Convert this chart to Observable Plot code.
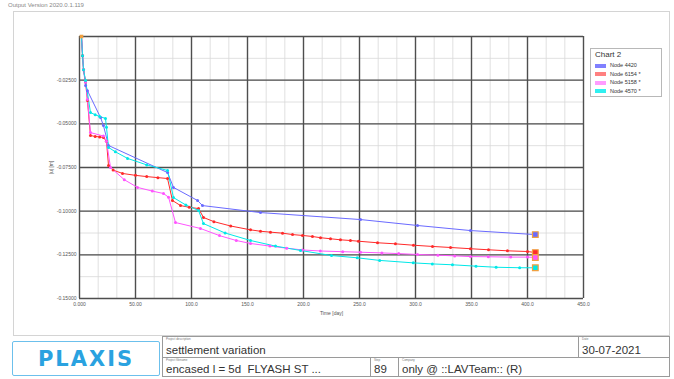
<!DOCTYPE html>
<html><head><meta charset="utf-8">
<script src="https://cdn.jsdelivr.net/npm/d3@7"></script>
<script src="https://cdn.jsdelivr.net/npm/@observablehq/plot@0.6"></script>
<style>
body{margin:0;background:#fff;font-family:"Liberation Sans",Arial,sans-serif;}
#wrap{position:relative;width:674px;height:379px;overflow:hidden;background:#fff;}
#chart{position:absolute;left:0;top:0;}
.abs{position:absolute;}
.box{position:absolute;border:1px solid #9a9a9a;box-sizing:border-box;background:#fff;}
.lab{position:absolute;left:3px;top:0px;font-size:3px;color:#777;}
.val{position:absolute;left:3px;bottom:1px;font-size:11.5px;color:#333;white-space:nowrap;}
</style></head>
<body><div id="wrap">
<div class="abs" style="left:8px;top:2px;font-size:6px;color:#888;">Output Version 2020.0.1.119</div>
<div class="abs" style="left:13px;top:11px;width:657px;height:325px;border:1px solid #d4d4d4;box-sizing:border-box;"></div>
<div id="chart"></div>
<div id="legend" class="box" style="left:590px;top:48px;width:72px;height:49px;border-color:#b8b8b8;"></div>
<div class="box" style="left:12px;top:341px;width:148px;height:35px;border:1.5px solid #6cc0ec;border-radius:2px;display:flex;align-items:center;justify-content:center;">
<span style="font-family:'DejaVu Sans',sans-serif;font-weight:bold;font-size:21px;letter-spacing:2px;color:#2aa2e0;">PLAXIS</span></div>
<div class="box" style="left:162px;top:336px;width:417px;height:22px;"><div class="lab">Project description</div><div class="val">settlement variation</div></div>
<div class="box" style="left:578px;top:336px;width:92px;height:22px;"><div class="lab">Date</div><div class="val">30-07-2021</div></div>
<div class="box" style="left:162px;top:357px;width:209px;height:20px;"><div class="lab">Project filename</div><div class="val">encased l = 5d&nbsp; FLYASH ST ...</div></div>
<div class="box" style="left:370px;top:357px;width:29px;height:20px;"><div class="lab">Step</div><div class="val">89</div></div>
<div class="box" style="left:398px;top:357px;width:272px;height:20px;"><div class="lab">Company</div><div class="val">only @ ::LAVTeam:: (R)</div></div>
</div>
<script>
// Series: [time (day), |u| (m)]
const node4420 = [[1.8,0],[2.7,-0.011],[3.6,-0.019],[5.4,-0.028],[7.1,-0.031],[18.8,-0.0464],[21.4,-0.051],[25.9,-0.0624],[78.6,-0.0779],[83.9,-0.0864],[105.4,-0.0939],[109.8,-0.0968],[161.6,-0.1008],[250.9,-0.1048],[301.8,-0.1082],[349.1,-0.1111],[407,-0.1134]];
const node6154 = [[1.8,0],[2.7,-0.011],[3.6,-0.019],[5.4,-0.026],[7.1,-0.0366],[9.8,-0.0567],[14,-0.0572],[18,-0.0575],[21.4,-0.0578],[24.1,-0.060],[25.9,-0.0739],[30,-0.0765],[38.4,-0.0784],[50,-0.0795],[60,-0.0802],[70,-0.0808],[78.6,-0.0813],[83.0,-0.0939],[90.2,-0.0968],[98,-0.0978],[106.3,-0.0985],[110.7,-0.1036],[120,-0.1060],[135,-0.1085],[152.7,-0.1107],[161.6,-0.1115],[170.5,-0.112],[181.3,-0.1126],[190.2,-0.1134],[199.1,-0.1139],[208,-0.1145],[215.2,-0.1152],[224.1,-0.1158],[233,-0.1164],[241.9,-0.1168],[249.1,-0.1172],[266.1,-0.1181],[282.1,-0.1187],[298.2,-0.1195],[315.2,-0.1202],[331.3,-0.1208],[349.1,-0.1215],[365.2,-0.1221],[382.1,-0.1227],[400,-0.1231],[407,-0.1237]];
const node5158 = [[1.8,0],[3.6,-0.019],[5.4,-0.026],[7.1,-0.036],[9.8,-0.055],[21.4,-0.057],[24.1,-0.06],[27.7,-0.075],[40,-0.082],[51.8,-0.0864],[65,-0.0885],[75,-0.0899],[79.5,-0.092],[85.7,-0.1065],[108,-0.1099],[125,-0.1140],[140,-0.1168],[152.7,-0.1185],[170,-0.1200],[185,-0.1212],[199,-0.1222],[215,-0.1228],[235,-0.1232],[250.9,-0.1235],[270,-0.1239],[285,-0.1243],[301.8,-0.1248],[320,-0.1252],[335,-0.1256],[349.1,-0.126],[365,-0.1261],[385,-0.1263],[400,-0.1263],[407,-0.1265]];
const node4570 = [[1.8,0],[2.7,-0.011],[3.6,-0.019],[5.4,-0.0252],[9.8,-0.0435],[14,-0.0448],[18,-0.0458],[23.2,-0.0469],[24.1,-0.052],[25.9,-0.0635],[32,-0.066],[42.9,-0.0698],[60,-0.0735],[78.6,-0.0767],[83.9,-0.0922],[95,-0.0965],[106.3,-0.0996],[110.7,-0.1071],[130,-0.1125],[152.7,-0.1168],[175,-0.1200],[197.3,-0.1225],[225,-0.1254],[248,-0.1267],[268,-0.1282],[298,-0.1296],[315,-0.1302],[333,-0.1307],[354,-0.1315],[372,-0.1321],[393,-0.1324],[407,-0.1324]];
const seriesNames = ["Node 4420", "Node 6154 *", "Node 5158 *", "Node 4570 *"];
const seriesColors = ["#6a6aff", "#ff2a2a", "#ff55ff", "#00e8e8"];
const swatchColors = ["#8080ff", "#ff8080", "#ff9cff", "#30f0f0"];
const seriesData = [node4420, node6154, node5158, node4570];
const xMajor = [0,50,100,150,200,250,300,350,400,450];
const yMajor = [-0.15,-0.125,-0.1,-0.075,-0.05,-0.025,0];
const yLabelTicks = [-0.15,-0.125,-0.1,-0.075,-0.05,-0.025];
const xMinor = d3.range(0,451,50/3);
const yMinor = d3.range(-0.15,0.0001,0.0125);

const rows = [];
seriesData.forEach((s,i)=>s.forEach(([t,u])=>rows.push({t,u,name:seriesNames[i]})));
const ends = seriesData.map((s,i)=>({t:s[s.length-1][0],u:s[s.length-1][1],name:seriesNames[i]}));
const starts = [{t:node4570[0][0],u:node4570[0][1]}];
const fmtX = v => v===0 ? "0.000" : (v<100 ? v.toFixed(2) : v.toFixed(1));
const fmtY = v => v.toFixed(5);

const chart = Plot.plot({
  width: 674, height: 336,
  marginLeft: 79, marginRight: 91, marginTop: 36, marginBottom: 38,
  style: {fontFamily:"Liberation Sans, Arial, sans-serif", fontSize:"5px", color:"#555", background:"transparent"},
  x: {domain:[0,450]},
  y: {domain:[-0.15,0]},
  color: {domain: seriesNames, range: seriesColors},
  marks: [
    Plot.ruleX(xMinor, {stroke:"#d8d8d8", strokeWidth:0.8}),
    Plot.ruleY(yMinor, {stroke:"#d8d8d8", strokeWidth:0.8}),
    Plot.ruleX(xMajor, {stroke:"#4e4e4e", strokeWidth:1.4}),
    Plot.ruleY(yMajor, {stroke:"#4e4e4e", strokeWidth:1.4}),
    Plot.axisX({ticks:xMajor, tickFormat:fmtX, tickSize:0, tickPadding:4, label:"Time [day]", labelAnchor:"center", labelArrow:"none", labelOffset:16, fontSize:5}),
    Plot.axisY({ticks:yLabelTicks, tickFormat:fmtY, tickSize:0, tickPadding:3, label:"|u| [m]", labelAnchor:"center", labelArrow:"none", labelOffset:30, fontSize:5}),
    Plot.line(rows, {x:"t", y:"u", z:"name", stroke:"name", strokeWidth:1}),
    Plot.dot(rows, {x:"t", y:"u", fill:"name", r:1.5}),
    Plot.dot(ends, {x:"t", y:"u", fill:"name", stroke:"#f0a040", strokeWidth:1.2, symbol:"square", r:3.2}),
    Plot.dot(starts, {x:"t", y:"u", fill:"#f0a040", symbol:"square", r:2})
  ]
});
document.getElementById("chart").appendChild(chart);

const leg = document.getElementById("legend");
let h = '<div style="position:absolute;left:4px;top:1px;font-size:8px;color:#333;">Chart 2</div>';
seriesNames.forEach((n,i)=>{
  const top = 13 + i*8.5;
  h += `<div style="position:absolute;left:4px;top:${top+1.5}px;width:11px;height:4px;background:${swatchColors[i]};"></div>`;
  h += `<div style="position:absolute;left:19px;top:${top}px;font-size:5.5px;color:#333;white-space:nowrap;">${n}</div>`;
});
leg.innerHTML = h;
</script>
</body></html>
